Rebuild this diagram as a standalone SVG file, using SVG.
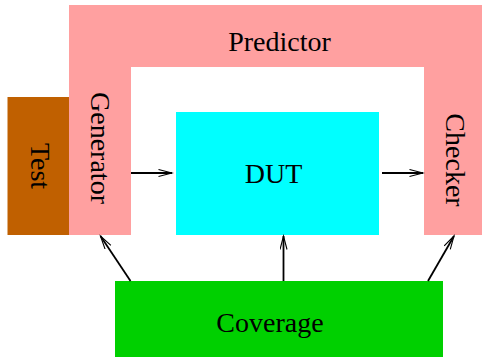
<svg xmlns="http://www.w3.org/2000/svg" width="482" height="360" viewBox="0 0 482 360">
<style>
text{font-family:"Liberation Serif","Times New Roman",serif;font-size:28px;fill:#000;text-anchor:middle}
.conn{stroke:#000;stroke-width:1.8;fill:none;marker-end:url(#arr)}
</style>
<defs>
<marker id="arr" markerUnits="userSpaceOnUse" markerWidth="16" markerHeight="10" refX="14" refY="4" orient="auto">
<path d="M0.5,0.5 L14,4 L0.5,7.5" fill="none" stroke="#000" stroke-width="1.1"/>
</marker>
</defs>
<rect width="482" height="360" fill="#fff"/>
<g id="predictor">
<path d="M69,5 H482 V235 H424 V67 H131 V235 H69 Z" fill="#ffa0a0"/>
<text x="279.5" y="51">Predictor</text>
</g>
<g id="generator">
<text transform="translate(91,148) rotate(90)">Generator</text>
</g>
<g id="checker">
<text transform="translate(446,160) rotate(90)">Checker</text>
</g>
<g id="test">
<rect x="7.5" y="97" width="61.5" height="138" fill="#c06000"/>
<text transform="translate(31,166) rotate(90)">Test</text>
</g>
<g id="dut">
<rect x="176" y="112" width="203" height="123" fill="#00ffff"/>
<text x="273.5" y="182.5">DUT</text>
</g>
<g id="coverage">
<rect x="115" y="281" width="328" height="76" fill="#00d000"/>
<text x="270" y="332">Coverage</text>
</g>
<g id="connectors">
<line class="conn" x1="131" y1="173" x2="172" y2="173"/>
<line class="conn" x1="382" y1="173" x2="423" y2="173"/>
<line class="conn" x1="130.5" y1="281" x2="100.5" y2="236"/>
<line class="conn" x1="283.5" y1="281" x2="283.5" y2="236"/>
<line class="conn" x1="428" y1="281" x2="454" y2="236"/>
</g>
</svg>
